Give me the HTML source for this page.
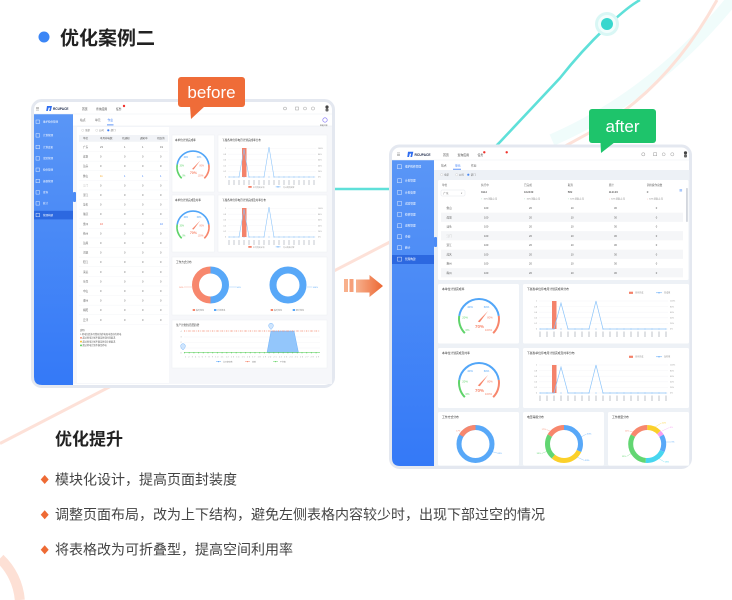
<!DOCTYPE html>
<html><head><meta charset="utf-8"><title>优化案例二</title>
<style>
html,body{margin:0;padding:0;background:#fff}
body{width:732px;height:600px;overflow:hidden}
svg{display:block;overflow:hidden}
text{font-family:"Liberation Sans","Noto Sans CJK SC",sans-serif}
</style></head><body>
<svg width="732" height="600" viewBox="0 0 732 600" xmlns="http://www.w3.org/2000/svg">
<defs>
<linearGradient id="sb" x1="0" y1="0" x2="0" y2="1"><stop offset="0" stop-color="#5a96f6"/><stop offset="1" stop-color="#3479f7"/></linearGradient>
<linearGradient id="arr" x1="0" x2="1" y1="0" y2="0"><stop offset="0" stop-color="#f7b18e"/><stop offset="1" stop-color="#ec6631"/></linearGradient>
<pattern id="xt5" x="228.6" y="0" width="5" height="1" patternUnits="userSpaceOnUse"><rect x="0" y="0" width=".8" height="1" fill="#b8bcc4"/></pattern>
<pattern id="xt7" x="539.55" y="0" width="7" height="1" patternUnits="userSpaceOnUse"><rect x="0" y="0" width=".9" height="1" fill="#b8bcc4"/></pattern>
<pattern id="rowl" x="0" y="142.2" width="10" height="9.6" patternUnits="userSpaceOnUse"><rect x="0" y="9.3" width="10" height=".35" fill="#eceff3"/></pattern>
</defs>

<!-- decorations -->
<path d="M732,0 Q655,95 552,140" stroke="#f0fcfb" stroke-width="12" fill="none"/>
<path d="M717,0 Q670,85 600,127 L388,243 L0,443.5" stroke="#fde1d8" stroke-width="3" fill="none"/>
<path d="M640,0 C625,8 590,40 560,78 L500,142 Q455,189 390,189 L330,189" stroke="#5fe0d9" stroke-width="2.6" fill="none"/>
<circle cx="607" cy="24" r="12" fill="#d9f7f5"/>
<circle cx="607" cy="24" r="9" fill="#f2fdfc"/>
<circle cx="607" cy="24" r="6" fill="#38d7ce"/>
<path d="M0,558.5 A64,64 0 0 1 19.8,600" stroke="#fde0d5" stroke-width="10" fill="none"/>

<!-- title -->
<circle cx="44" cy="37" r="5.5" fill="#3b86f6"/>
<text x="60" y="44.5" font-size="19" font-weight="bold" fill="#222">优化案例二</text>

<!-- ================= BEFORE ================= -->
<g>
<rect x="32.5" y="100.5" width="301" height="286" rx="9" fill="#fff" stroke="#e4e8f0" stroke-width="3"/>
<rect x="73" y="126" width="259" height="258" fill="#f6f7fa"/>
<path d="M34,114H73V385H42Q34,385 34,377Z" fill="url(#sb)"/>
<rect x="34" y="210.8" width="39" height="8.6" fill="#2c68e0"/>
<rect x="73" y="192" width="3" height="10" rx="1" fill="#4b8bf6"/>
<line x1="34" y1="114" x2="332" y2="114" stroke="#eceff3" stroke-width=".6"/>
<line x1="73" y1="126" x2="332" y2="126" stroke="#e8ebf0" stroke-width=".6"/>
<!-- header -->
<g fill="#888"><rect x="36" y="107" width="3" height=".5"/><rect x="36" y="108.4" width="3" height=".5"/><rect x="36" y="109.8" width="3" height=".5"/></g>
<path d="M47,106h5l-1.2,5h-1.6l0.8-3.3h-1.4l-0.8,3.3h-1.6z" fill="#2d6cf0"/>
<text x="53" y="110" font-size="3.2" font-weight="bold" fill="#1e2a4a">RCUPACE</text>
<g font-size="2.8" fill="#444"><text x="82" y="109.8">首页</text><text x="96" y="109.8">查询应用</text><text x="116" y="109.8">任务</text></g>
<circle cx="124" cy="106" r="1.2" fill="#f0302a"/>
<circle cx="285" cy="108.5" r="1.5" fill="none" stroke="#777" stroke-width=".4"/>
<rect x="295.5" y="107" width="3" height="3" fill="none" stroke="#888" stroke-width=".4"/>
<circle cx="305" cy="108.5" r="1.5" fill="none" stroke="#888" stroke-width=".4"/>
<circle cx="313" cy="108.5" r="1.6" fill="none" stroke="#888" stroke-width=".4"/>
<circle cx="327" cy="107" r="1.6" fill="#444"/><rect x="325.5" y="108.5" width="3" height="3" rx="1" fill="#666"/>
<!-- sidebar -->
<g fill="none" stroke="#fff" stroke-width=".4">
<rect x="36" y="120" width="3.5" height="3.5"/><rect x="36" y="133.6" width="3.5" height="3.5"/><rect x="36" y="145.3" width="3.5" height="3.5"/><rect x="36" y="156.6" width="3.5" height="3.5"/><rect x="36" y="168" width="3.5" height="3.5"/><rect x="36" y="179.3" width="3.5" height="3.5"/><rect x="36" y="190.6" width="3.5" height="3.5"/><rect x="36" y="201.6" width="3.5" height="3.5"/><rect x="36" y="213.3" width="3.5" height="3.5"/>
</g>
<g font-size="2.5" fill="#fff">
<text x="43" y="122.6">维护检修管理</text><text x="43" y="136.2">计划管理</text><text x="43" y="147.9">计划变更</text><text x="43" y="159.2">试验管理</text><text x="43" y="170.6">检修管理</text><text x="43" y="181.9">巡视管理</text><text x="43" y="193.2">查询</text><text x="43" y="204.2">统计</text><text x="43" y="215.9">管理构建</text>
</g>
<!-- tabs -->
<g font-size="2.8" fill="#666"><text x="80" y="121">站点</text><text x="95" y="121">单元</text></g>
<text x="107.5" y="121" font-size="2.8" fill="#3a7cf6">作业</text>
<rect x="107" y="124.5" width="6.5" height=".8" fill="#3a7cf6"/>
<circle cx="325" cy="120" r="2.2" fill="none" stroke="#7a6af5" stroke-width=".6"/>
<text x="320" y="126" font-size="1.9" fill="#666">智能开票</text>
<!-- left table -->
<rect x="77" y="127" width="92" height="256" fill="#fff"/>
<circle cx="82.7" cy="130.3" r="1.1" fill="none" stroke="#bbb" stroke-width=".3"/>
<circle cx="96.7" cy="130.3" r="1.1" fill="none" stroke="#bbb" stroke-width=".3"/>
<circle cx="108.3" cy="130.3" r="1.1" fill="#3a7cf6"/>
<g font-size="2.4" fill="#666"><text x="85" y="131.2">全部</text><text x="99" y="131.2">公司</text><text x="110.6" y="131.2">部门</text></g>
<rect x="79" y="135" width="89" height="6.8" fill="#f1f3f7"/>
<g font-size="2.5" fill="#555"><text x="83" y="139.2">单位</text><text x="100" y="139.2">本月停电数</text><text x="122" y="139.2">已通知</text><text x="140" y="139.2">通知中</text><text x="157" y="139.2">已取消</text></g>
<rect x="79" y="143" width="89" height="182" fill="url(#rowl)"/>
<g font-size="2.6" fill="#666">
<text y="148"><tspan x="83">广东</tspan><tspan x="100">23</tspan><tspan x="124">1</tspan><tspan x="142">1</tspan><tspan x="160">19</tspan></text>
<text y="157.6"><tspan x="83">深圳</tspan><tspan x="100">0</tspan><tspan x="124">0</tspan><tspan x="142">0</tspan><tspan x="160">0</tspan></text>
<text y="167.2"><tspan x="83">汕头</tspan><tspan x="100">0</tspan><tspan x="124">0</tspan><tspan x="142">0</tspan><tspan x="160">0</tspan></text>
<text y="176.8"><tspan x="83">佛山</tspan><tspan x="100" fill="#f5a623">11</tspan><tspan x="124" fill="#3a7cf6">1</tspan><tspan x="142" fill="#3a7cf6">1</tspan><tspan x="160" fill="#3a7cf6">1</tspan></text>
<text y="186.4"><tspan x="83" fill="#bbb">江门</tspan><tspan x="100">0</tspan><tspan x="124">0</tspan><tspan x="142">0</tspan><tspan x="160">0</tspan></text>
<text y="196"><tspan x="83">湛江</tspan><tspan x="100">0</tspan><tspan x="124">0</tspan><tspan x="142">0</tspan><tspan x="160">0</tspan></text>
<text y="205.6"><tspan x="83">茂名</tspan><tspan x="100">0</tspan><tspan x="124">0</tspan><tspan x="142">0</tspan><tspan x="160">0</tspan></text>
<text y="215.2"><tspan x="83">肇庆</tspan><tspan x="100">0</tspan><tspan x="124">0</tspan><tspan x="142">0</tspan><tspan x="160">0</tspan></text>
<text y="224.8"><tspan x="83">惠州</tspan><tspan x="100" fill="#f0503a">16</tspan><tspan x="124">0</tspan><tspan x="142">0</tspan><tspan x="160" fill="#3a7cf6">10</tspan></text>
<text y="234.4"><tspan x="83">梅州</tspan><tspan x="100">0</tspan><tspan x="124">0</tspan><tspan x="142">0</tspan><tspan x="160">0</tspan></text>
<text y="244"><tspan x="83">汕尾</tspan><tspan x="100">0</tspan><tspan x="124">0</tspan><tspan x="142">0</tspan><tspan x="160">0</tspan></text>
<text y="253.6"><tspan x="83">河源</tspan><tspan x="100">0</tspan><tspan x="124">0</tspan><tspan x="142">0</tspan><tspan x="160">0</tspan></text>
<text y="263.2"><tspan x="83">阳江</tspan><tspan x="100">0</tspan><tspan x="124">0</tspan><tspan x="142">0</tspan><tspan x="160">0</tspan></text>
<text y="272.8"><tspan x="83">清远</tspan><tspan x="100">0</tspan><tspan x="124">0</tspan><tspan x="142">0</tspan><tspan x="160">0</tspan></text>
<text y="282.4"><tspan x="83">东莞</tspan><tspan x="100">0</tspan><tspan x="124">0</tspan><tspan x="142">0</tspan><tspan x="160">0</tspan></text>
<text y="292"><tspan x="83">中山</tspan><tspan x="100">0</tspan><tspan x="124">0</tspan><tspan x="142">0</tspan><tspan x="160">0</tspan></text>
<text y="301.6"><tspan x="83">潮州</tspan><tspan x="100">0</tspan><tspan x="124">0</tspan><tspan x="142">0</tspan><tspan x="160">0</tspan></text>
<text y="311.2"><tspan x="83">揭阳</tspan><tspan x="100">0</tspan><tspan x="124">0</tspan><tspan x="142">0</tspan><tspan x="160">0</tspan></text>
<text y="320.8"><tspan x="83">云浮</tspan><tspan x="100">0</tspan><tspan x="124">0</tspan><tspan x="142">0</tspan><tspan x="160">0</tspan></text>
</g>
<g font-size="2.2" fill="#555">
<text x="80" y="331">说明:</text>
<text x="80" y="334.8">1.停电包括本月所有的停电和申请中的停电.</text>
<rect x="80" y="337" width="2" height="1.6" fill="#f7a08a"/><text x="82.5" y="338.6">超过停电计划不满足停电时间要求.</text>
<rect x="80" y="340.8" width="2" height="1.6" fill="#f5c242"/><text x="82.5" y="342.4">超过停电计划不满足停电计划要求.</text>
<rect x="80" y="344.6" width="2" height="1.6" fill="#6bd46b"/><text x="82.5" y="346.2">超过停电计划不满足停电.</text>
</g>

<!-- card A gauge -->
<rect x="172" y="135" width="42.5" height="57" fill="#fff" stroke="#edf0f4" stroke-width=".5"/>
<text x="175" y="141" font-size="2.6" fill="#333">本单位计划完成率</text>
<g transform="translate(193,167) scale(0.8)">
<path d="M-14.14,14.14 A20,20 0 0 1 -19.75,-3.13" stroke="#5fd36a" stroke-width="2" fill="none"/>
<path d="M-19.75,-3.13 A20,20 0 0 1 19.75,-3.13" stroke="#52a6f8" stroke-width="2" fill="none"/>
<path d="M19.75,-3.13 A20,20 0 0 1 14.14,14.14" stroke="#f7866c" stroke-width="2" fill="none"/>
<g font-size="2.8" text-anchor="middle">
<text x="-11.5" y="12" fill="#5fd36a">0%</text><text x="-14" y="-0.5" fill="#5fd36a">20%</text>
<text x="-9" y="-11" fill="#52a6f8">40%</text><text x="7.5" y="-11" fill="#52a6f8">60%</text>
<text x="11" y="-0.5" fill="#f7866c">80%</text><text x="9.5" y="12" fill="#f7866c">100%</text>
</g>
<polygon points="-1.2,2.5 0.8,3.2 9,-8" fill="#f7866c"/>
<text x="0.5" y="9" font-size="4.5" font-weight="bold" fill="#f7866c" text-anchor="middle">70%</text>
</g>
<!-- card C gauge -->
<rect x="172" y="195" width="42.5" height="57" fill="#fff" stroke="#edf0f4" stroke-width=".5"/>
<text x="175" y="201" font-size="2.6" fill="#333">本单位计划完成及时率</text>
<g transform="translate(193,227) scale(0.8)">
<path d="M-14.14,14.14 A20,20 0 0 1 -19.75,-3.13" stroke="#5fd36a" stroke-width="2" fill="none"/>
<path d="M-19.75,-3.13 A20,20 0 0 1 19.75,-3.13" stroke="#52a6f8" stroke-width="2" fill="none"/>
<path d="M19.75,-3.13 A20,20 0 0 1 14.14,14.14" stroke="#f7866c" stroke-width="2" fill="none"/>
<g font-size="2.8" text-anchor="middle">
<text x="-11.5" y="12" fill="#5fd36a">0%</text><text x="-14" y="-0.5" fill="#5fd36a">20%</text>
<text x="-9" y="-11" fill="#52a6f8">40%</text><text x="7.5" y="-11" fill="#52a6f8">60%</text>
<text x="11" y="-0.5" fill="#f7866c">80%</text><text x="9.5" y="12" fill="#f7866c">100%</text>
</g>
<polygon points="-1.2,2.5 0.8,3.2 9,-8" fill="#f7866c"/>
<text x="0.5" y="9" font-size="4.5" font-weight="bold" fill="#f7866c" text-anchor="middle">70%</text>
</g>
<!-- card B line chart -->
<rect x="218" y="135" width="109" height="57" fill="#fff" stroke="#edf0f4" stroke-width=".5"/>
<text x="222" y="141" font-size="2.6" fill="#333">下属各单位停电月计划完成率分布</text>
<g stroke="#f0f1f3" stroke-width=".35"><line x1="228" y1="148.5" x2="316" y2="148.5"/><line x1="228" y1="154.2" x2="316" y2="154.2"/><line x1="228" y1="159.9" x2="316" y2="159.9"/><line x1="228" y1="165.6" x2="316" y2="165.6"/><line x1="228" y1="171.3" x2="316" y2="171.3"/><line x1="228" y1="177" x2="316" y2="177"/></g>
<g font-size="1.9" fill="#999" text-anchor="end"><text x="226" y="149.2">1</text><text x="226" y="154.9">0.8</text><text x="226" y="160.6">0.6</text><text x="226" y="166.3">0.4</text><text x="226" y="172">0.2</text><text x="226" y="177.7">0</text></g>
<g font-size="1.9" fill="#999"><text x="318" y="149.2">100%</text><text x="318" y="154.9">80%</text><text x="318" y="160.6">60%</text><text x="318" y="166.3">40%</text><text x="318" y="172">20%</text><text x="318" y="177.7">0%</text></g>
<rect x="242" y="148" width="4.5" height="29" fill="#f4826a"/>
<polyline points="229,177 234,177 239,177 244,149 249,177 254,177 259,177 264,177 269,147 274,177 279,177 284,177 289,177 294,177 299,177 304,177 309,177 314,177" fill="none" stroke="#8cc4fa" stroke-width=".6"/>
<line x1="229" y1="177" x2="315" y2="177" stroke="#6fb3f8" stroke-width="1" stroke-dasharray="0 5" stroke-linecap="round"/>
<rect x="228" y="180" width="88" height="5" fill="url(#xt5)"/>
<rect x="248.3" y="186" width="3.4" height="1.8" fill="#f4826a"/><text x="253" y="187.8" font-size="1.9" fill="#888">本月完成计划</text>
<line x1="275.7" y1="186.9" x2="280.5" y2="186.9" stroke="#5aa6f7" stroke-width=".5"/><circle cx="278" cy="186.9" r=".6" fill="#5aa6f7"/><text x="283" y="187.8" font-size="1.9" fill="#888">月计划完成率</text>
<!-- card D line chart -->
<rect x="218" y="195" width="109" height="57" fill="#fff" stroke="#edf0f4" stroke-width=".5"/>
<text x="222" y="201" font-size="2.6" fill="#333">下属各单位停电月计划完成及时率分布</text>
<g stroke="#f0f1f3" stroke-width=".35"><line x1="228" y1="208.5" x2="316" y2="208.5"/><line x1="228" y1="214.2" x2="316" y2="214.2"/><line x1="228" y1="219.9" x2="316" y2="219.9"/><line x1="228" y1="225.6" x2="316" y2="225.6"/><line x1="228" y1="231.3" x2="316" y2="231.3"/><line x1="228" y1="237" x2="316" y2="237"/></g>
<g font-size="1.9" fill="#999" text-anchor="end"><text x="226" y="209.2">1</text><text x="226" y="214.9">0.8</text><text x="226" y="220.6">0.6</text><text x="226" y="226.3">0.4</text><text x="226" y="232">0.2</text><text x="226" y="237.7">0</text></g>
<g font-size="1.9" fill="#999"><text x="318" y="209.2">100%</text><text x="318" y="214.9">80%</text><text x="318" y="220.6">60%</text><text x="318" y="226.3">40%</text><text x="318" y="232">20%</text><text x="318" y="237.7">0%</text></g>
<rect x="242" y="208" width="4.5" height="29" fill="#f4826a"/>
<polyline points="229,237 234,237 239,237 244,209 249,237 254,237 259,237 264,237 269,207 274,237 279,237 284,237 289,237 294,237 299,237 304,237 309,237 314,237" fill="none" stroke="#8cc4fa" stroke-width=".6"/>
<line x1="229" y1="237" x2="315" y2="237" stroke="#6fb3f8" stroke-width="1" stroke-dasharray="0 5" stroke-linecap="round"/>
<rect x="228" y="240" width="88" height="5" fill="url(#xt5)"/>
<rect x="248.3" y="246" width="3.4" height="1.8" fill="#f4826a"/><text x="253" y="247.8" font-size="1.9" fill="#888">本月完成计划</text>
<line x1="275.7" y1="246.9" x2="280.5" y2="246.9" stroke="#5aa6f7" stroke-width=".5"/><circle cx="278" cy="246.9" r=".6" fill="#5aa6f7"/><text x="283" y="247.8" font-size="1.9" fill="#888">月计划及时率</text>
<!-- card E donuts -->
<rect x="172" y="257" width="155" height="58" fill="#fff" stroke="#edf0f4" stroke-width=".5"/>
<text x="176" y="263" font-size="2.6" fill="#333">工作方式分布</text>
<path d="M210.5,270 A15,15 0 0 1 210.5,300" stroke="#58a8f8" stroke-width="7" fill="none"/>
<path d="M210.5,300 A15,15 0 0 1 210.5,270" stroke="#f7876d" stroke-width="7" fill="none"/>
<line x1="184" y1="287" x2="192" y2="287" stroke="#f7876d" stroke-width=".3"/><text x="183.5" y="287.8" font-size="2.2" fill="#f7876d" text-anchor="end">50%</text>
<line x1="229" y1="287" x2="236" y2="287" stroke="#58a8f8" stroke-width=".3"/><text x="236.5" y="287.8" font-size="2.2" fill="#58a8f8">50%</text>
<circle cx="288" cy="285" r="15" stroke="#58a8f8" stroke-width="7" fill="none"/>
<line x1="307" y1="287" x2="312" y2="287" stroke="#58a8f8" stroke-width=".3"/><text x="312.5" y="287.8" font-size="2.2" fill="#58a8f8">100%</text>
<g font-size="2" fill="#888">
<rect x="192.7" y="309" width="2.4" height="2" fill="#f7876d"/><text x="196" y="310.8">临时停电</text>
<rect x="214" y="309" width="2.4" height="2" fill="#58a8f8"/><text x="217.3" y="310.8">计划停电</text>
<rect x="270.7" y="309" width="2.4" height="2" fill="#f7876d"/><text x="274" y="310.8">临时停电</text>
<rect x="292.7" y="309" width="2.4" height="2" fill="#58a8f8"/><text x="296" y="310.8">累计停电</text>
</g>
<!-- card F trend -->
<rect x="172" y="320" width="155" height="48" fill="#fff" stroke="#edf0f4" stroke-width=".5"/>
<text x="176" y="325.8" font-size="2.6" fill="#333">生产计划性月历趋势</text>
<g font-size="1.9" fill="#999" text-anchor="end"><text x="181.5" y="331.8">4</text><text x="181.5" y="337.3">3</text><text x="181.5" y="342.8">2</text><text x="181.5" y="348.3">1</text><text x="181.5" y="353.6">0</text></g>
<g stroke="#f0f1f3" stroke-width=".35"><line x1="184" y1="337" x2="320" y2="337"/><line x1="184" y1="342.5" x2="320" y2="342.5"/><line x1="184" y1="348" x2="320" y2="348"/></g>
<polygon points="267,352.7 271,331 294,331 298.5,352.7" fill="#93c6fb" stroke="#5aa6f7" stroke-width=".4"/>
<line x1="184" y1="331" x2="320" y2="331" stroke="#f58a70" stroke-width=".5" stroke-dasharray="1.2 .8"/>
<line x1="184.5" y1="331" x2="320" y2="331" stroke="#f58a70" stroke-width="1.1" stroke-dasharray="0 4.7" stroke-linecap="round"/>
<line x1="184" y1="352.7" x2="320" y2="352.7" stroke="#6ad46a" stroke-width=".6"/>
<line x1="184.5" y1="352.7" x2="320" y2="352.7" stroke="#5ccc5c" stroke-width="1.2" stroke-dasharray="0 4.7" stroke-linecap="round"/>
<path d="M271,329.5 c-2,-2 -2.3,-3 -2.3,-4 a2.3,2.3 0 1 1 4.6,0 c0,1 -0.3,2 -2.3,4z" fill="#cfe5fd" stroke="#5aa6f7" stroke-width=".4"/>
<path d="M183,350 c-2,-2 -2.3,-3 -2.3,-4 a2.3,2.3 0 1 1 4.6,0 c0,1 -0.3,2 -2.3,4z" fill="#cfe5fd" stroke="#5aa6f7" stroke-width=".4"/>
<text x="185" y="357.5" font-size="1.9" fill="#999" textLength="134" lengthAdjust="spacing">1 2 3 4 5 6 7 8 9 10 11 12 13 14 15 16 17 18 19 20 21 22 23 24 25 26 27 28 29</text>
<g font-size="1.9" fill="#888">
<line x1="216" y1="361.6" x2="221" y2="361.6" stroke="#5aa6f7" stroke-width=".5"/><circle cx="218.5" cy="361.6" r=".6" fill="#5aa6f7"/><text x="223" y="362.4">当日停电数</text>
<line x1="245" y1="361.6" x2="250" y2="361.6" stroke="#f58a70" stroke-width=".5"/><circle cx="247.5" cy="361.6" r=".6" fill="#f58a70"/><text x="252" y="362.4">峰值</text>
<line x1="273" y1="361.6" x2="278" y2="361.6" stroke="#6ad46a" stroke-width=".5"/><circle cx="275.5" cy="361.6" r=".6" fill="#6ad46a"/><text x="280" y="362.4">平均值</text>
</g>
</g>

<!-- before bubble -->
<rect x="178" y="77" width="67" height="30" rx="3" fill="#ef6c38"/>
<path d="M190,106 H205 L191,119 Z" fill="#ef6c38"/>
<text x="211.5" y="98" font-size="17" fill="#fff" text-anchor="middle">before</text>

<!-- arrow -->
<rect x="344" y="279" width="4" height="13" fill="#f8b08c"/>
<rect x="349.5" y="279" width="4" height="13" fill="#f6a07a"/>
<path d="M356,279.5 H369.5 V275 L383,286 L369.5,297 V292.5 H356 Z" fill="url(#arr)"/>

<!-- ================= AFTER ================= -->
<g>
<rect x="390.5" y="146" width="300" height="321.5" rx="9" fill="#fff" stroke="#e4e8f0" stroke-width="3"/>
<rect x="434" y="170" width="255.5" height="296" fill="#edf1f6"/>
<path d="M392,160H434V466H400Q392,466 392,458Z" fill="url(#sb)"/>
<rect x="392" y="255" width="42" height="9" fill="#2c68e0"/>
<rect x="434" y="237" width="3" height="10" rx="1" fill="#4b8bf6"/>
<line x1="392" y1="160" x2="689.5" y2="160" stroke="#eceff3" stroke-width=".6"/>
<!-- header -->
<g fill="#888"><rect x="397" y="152.7" width="3" height=".5"/><rect x="397" y="154.1" width="3" height=".5"/><rect x="397" y="155.5" width="3" height=".5"/></g>
<path d="M408,151.8h5.3l-1.2,5.2h-1.7l0.8-3.4h-1.4l-0.8,3.4h-1.7z" fill="#2d6cf0"/>
<text x="414.5" y="156" font-size="3.3" font-weight="bold" fill="#1e2a4a">RCUPACE</text>
<g font-size="2.9" fill="#444"><text x="443" y="155.8">首页</text><text x="457.5" y="155.8">查询应用</text><text x="477.5" y="155.8">任务</text></g>
<circle cx="484.3" cy="152.3" r="1.2" fill="#f0302a"/>
<circle cx="506.7" cy="152.3" r="1.2" fill="#f0302a"/>
<circle cx="643.3" cy="154.3" r="1.6" fill="none" stroke="#777" stroke-width=".4"/>
<rect x="653.5" y="152.8" width="3.2" height="3" fill="none" stroke="#888" stroke-width=".4"/>
<circle cx="663.7" cy="154.3" r="1.5" fill="none" stroke="#888" stroke-width=".4"/>
<circle cx="672.3" cy="154.3" r="1.6" fill="none" stroke="#888" stroke-width=".4"/>
<circle cx="685.5" cy="152.8" r="1.6" fill="#444"/><rect x="684" y="154.3" width="3" height="3.2" rx="1" fill="#666"/>
<!-- sidebar -->
<g fill="none" stroke="#fff" stroke-width=".4">
<rect x="397.5" y="164.8" width="4" height="4"/><rect x="397.5" y="178.8" width="4" height="4"/><rect x="397.5" y="190.4" width="4" height="4"/><rect x="397.5" y="201.4" width="4" height="4"/><rect x="397.5" y="212.4" width="4" height="4"/><rect x="397.5" y="223.8" width="4" height="4"/><rect x="397.5" y="234.8" width="4" height="4"/><rect x="397.5" y="245.8" width="4" height="4"/><rect x="397.5" y="257.1" width="4" height="4"/>
</g>
<g font-size="2.7" fill="#fff">
<text x="405" y="167.7">维护检修管理</text><text x="405" y="181.7">计划管理</text><text x="405" y="193.3">计划变更</text><text x="405" y="204.3">试验管理</text><text x="405" y="215.3">检修管理</text><text x="405" y="226.7">巡视管理</text><text x="405" y="237.7">查询</text><text x="405" y="248.7">统计</text><text x="405" y="260">管理构建</text>
</g>
<!-- tabs -->
<g font-size="2.8" fill="#666"><text x="441" y="166.5">站点</text><text x="471" y="166.5">作业</text></g>
<text x="455" y="166.5" font-size="2.8" fill="#3a7cf6">单元</text>
<rect x="453" y="168.8" width="8" height=".8" fill="#3a7cf6"/>
<circle cx="441.7" cy="174.7" r="1.1" fill="#fff" stroke="#bbb" stroke-width=".3"/>
<circle cx="456.7" cy="174.7" r="1.1" fill="#fff" stroke="#bbb" stroke-width=".3"/>
<circle cx="468.3" cy="174.7" r="1.1" fill="#4a8af6"/>
<g font-size="2.4" fill="#666"><text x="444" y="175.6">全部</text><text x="459" y="175.6">公司</text><text x="470.8" y="175.6">部门</text></g>
<!-- table card -->
<rect x="438" y="180" width="250.5" height="100" rx="1.5" fill="#fff"/>
<g font-size="2.6" fill="#666"><text x="442" y="186">单位</text><text x="481" y="186">执行中</text><text x="524" y="186">已完成</text><text x="567.7" y="186">取消</text><text x="608.7" y="186">累计</text><text x="646.7" y="186">调用操作总数</text></g>
<rect x="441" y="190" width="24" height="6" rx="1" fill="#fff" stroke="#dde1e8" stroke-width=".4"/>
<text x="443.5" y="194.2" font-size="2.5" fill="#444">广东</text><text x="461" y="194.2" font-size="2.3" fill="#888">▾</text>
<g font-size="2.8" fill="#333"><text x="481" y="193.2">9112</text><text x="524" y="193.2">102439</text><text x="567.7" y="193.2">582</text><text x="608.7" y="193.2">112133</text><text x="646.7" y="193.2">0</text></g>
<g font-size="2.2">
<text x="481" y="199.6" fill="#3cc06a">↑</text><text x="483.5" y="199.6" fill="#777">10% 同比上月</text>
<text x="524" y="199.6" fill="#3cc06a">↑</text><text x="526.5" y="199.6" fill="#777">10% 同比上月</text>
<text x="567.7" y="199.6" fill="#3cc06a">↑</text><text x="570.2" y="199.6" fill="#777">10% 同比上月</text>
<text x="608.7" y="199.6" fill="#f0503a">↓</text><text x="611.2" y="199.6" fill="#777">10% 同比上月</text>
<text x="646.7" y="199.6" fill="#f0503a">↓</text><text x="649.2" y="199.6" fill="#777">10% 同比上月</text>
</g>
<rect x="679.5" y="189" width="2.6" height="2.6" fill="#a9c8fb"/>
<rect x="686.2" y="188" width="1.5" height="34" rx=".7" fill="#c8cdd6"/>
<g fill="#f5f6f8"><rect x="441" y="212.65" width="242" height="9.2"/><rect x="441" y="231.15" width="242" height="9.2"/><rect x="441" y="249.65" width="242" height="9.2"/><rect x="441" y="268.15" width="242" height="9.2"/></g>
<g font-size="2.6" fill="#555">
<text y="209"><tspan x="446.5">佛山</tspan><tspan x="484">100</tspan><tspan x="529">20</tspan><tspan x="570.7">10</tspan><tspan x="614">30</tspan><tspan x="655.7">0</tspan></text>
<text y="218.25"><tspan x="446.5">深圳</tspan><tspan x="484">100</tspan><tspan x="529">20</tspan><tspan x="570.7">10</tspan><tspan x="614">30</tspan><tspan x="655.7">0</tspan></text>
<text y="227.5"><tspan x="446.5">汕头</tspan><tspan x="484">100</tspan><tspan x="529">20</tspan><tspan x="570.7">10</tspan><tspan x="614">30</tspan><tspan x="655.7">0</tspan></text>
<text y="236.75"><tspan x="446.5" fill="#bbb">江门</tspan><tspan x="484">100</tspan><tspan x="529">20</tspan><tspan x="570.7">10</tspan><tspan x="614">30</tspan><tspan x="655.7">0</tspan></text>
<text y="246"><tspan x="446.5">湛江</tspan><tspan x="484">100</tspan><tspan x="529">20</tspan><tspan x="570.7">10</tspan><tspan x="614">30</tspan><tspan x="655.7">0</tspan></text>
<text y="255.25"><tspan x="446.5">茂名</tspan><tspan x="484">100</tspan><tspan x="529">20</tspan><tspan x="570.7">10</tspan><tspan x="614">30</tspan><tspan x="655.7">0</tspan></text>
<text y="264.5"><tspan x="446.5">惠州</tspan><tspan x="484">100</tspan><tspan x="529">20</tspan><tspan x="570.7">10</tspan><tspan x="614">30</tspan><tspan x="655.7">0</tspan></text>
<text y="273.75"><tspan x="446.5">梅州</tspan><tspan x="484">100</tspan><tspan x="529">20</tspan><tspan x="570.7">10</tspan><tspan x="614">30</tspan><tspan x="655.7">0</tspan></text>
</g>

<!-- gauge card 1 -->
<rect x="438" y="284" width="81" height="59.5" rx="1.5" fill="#fff"/>
<text x="442" y="290" font-size="2.8" fill="#333">本单位计划完成率</text>
<g transform="translate(479,319)">
<path d="M-14.14,14.14 A20,20 0 0 1 -19.75,-3.13" stroke="#5fd36a" stroke-width="2" fill="none"/>
<path d="M-19.75,-3.13 A20,20 0 0 1 19.75,-3.13" stroke="#52a6f8" stroke-width="2" fill="none"/>
<path d="M19.75,-3.13 A20,20 0 0 1 14.14,14.14" stroke="#f7866c" stroke-width="2" fill="none"/>
<g font-size="2.8" text-anchor="middle">
<text x="-11.5" y="12" fill="#5fd36a">0%</text><text x="-14" y="-0.5" fill="#5fd36a">20%</text>
<text x="-9" y="-11" fill="#52a6f8">40%</text><text x="7.5" y="-11" fill="#52a6f8">60%</text>
<text x="11" y="-0.5" fill="#f7866c">80%</text><text x="9.5" y="12" fill="#f7866c">100%</text>
</g>
<polygon points="-1.2,2.5 0.8,3.2 9,-8" fill="#f7866c"/>
<text x="0.5" y="9" font-size="4.5" font-weight="bold" fill="#f7866c" text-anchor="middle">70%</text>
</g>
<!-- gauge card 2 -->
<rect x="438" y="348" width="81" height="60" rx="1.5" fill="#fff"/>
<text x="442" y="354" font-size="2.8" fill="#333">本单位计划完成及时率</text>
<g transform="translate(479,383)">
<path d="M-14.14,14.14 A20,20 0 0 1 -19.75,-3.13" stroke="#5fd36a" stroke-width="2" fill="none"/>
<path d="M-19.75,-3.13 A20,20 0 0 1 19.75,-3.13" stroke="#52a6f8" stroke-width="2" fill="none"/>
<path d="M19.75,-3.13 A20,20 0 0 1 14.14,14.14" stroke="#f7866c" stroke-width="2" fill="none"/>
<g font-size="2.8" text-anchor="middle">
<text x="-11.5" y="12" fill="#5fd36a">0%</text><text x="-14" y="-0.5" fill="#5fd36a">20%</text>
<text x="-9" y="-11" fill="#52a6f8">40%</text><text x="7.5" y="-11" fill="#52a6f8">60%</text>
<text x="11" y="-0.5" fill="#f7866c">80%</text><text x="9.5" y="12" fill="#f7866c">100%</text>
</g>
<polygon points="-1.2,2.5 0.8,3.2 9,-8" fill="#f7866c"/>
<text x="0.5" y="9" font-size="4.5" font-weight="bold" fill="#f7866c" text-anchor="middle">70%</text>
</g>

<!-- line card 1 -->
<rect x="523" y="284" width="166" height="59.5" rx="1.5" fill="#fff"/>
<text x="527" y="290" font-size="2.8" fill="#333">下属各单位停电月计划完成率分布</text>
<rect x="629" y="291.7" width="4" height="2.2" fill="#f4826a"/><text x="635" y="293.6" font-size="2.1" fill="#888">本月完成</text>
<line x1="656" y1="292.8" x2="662" y2="292.8" stroke="#5aa6f7" stroke-width=".5"/><circle cx="659" cy="292.8" r=".7" fill="#5aa6f7"/><text x="664" y="293.6" font-size="2.1" fill="#888">完成率</text>
<g stroke="#f0f1f3" stroke-width=".35"><line x1="539" y1="301" x2="668" y2="301"/><line x1="539" y1="306.6" x2="668" y2="306.6"/><line x1="539" y1="312.2" x2="668" y2="312.2"/><line x1="539" y1="317.8" x2="668" y2="317.8"/><line x1="539" y1="323.4" x2="668" y2="323.4"/><line x1="539" y1="329" x2="668" y2="329"/></g>
<g font-size="2" fill="#999" text-anchor="end"><text x="537" y="301.7">1</text><text x="537" y="307.3">0.8</text><text x="537" y="312.9">0.6</text><text x="537" y="318.5">0.4</text><text x="537" y="324.1">0.2</text><text x="537" y="329.7">0</text></g>
<g font-size="2" fill="#999"><text x="670" y="301.7">100%</text><text x="670" y="307.3">80%</text><text x="670" y="312.9">60%</text><text x="670" y="318.5">40%</text><text x="670" y="324.1">20%</text><text x="670" y="329.7">0%</text></g>
<rect x="552" y="301" width="4.5" height="28" fill="#f4826a"/>
<polyline points="540,329 547,329 554,329 561,303 568,329 575,329 582,329 589,329 596,301 603,329 610,329 617,329 624,329 631,329 638,329 645,329 652,329 659,329 666,329" fill="none" stroke="#8cc4fa" stroke-width=".7"/>
<line x1="540" y1="329" x2="667" y2="329" stroke="#6fb3f8" stroke-width="1.1" stroke-dasharray="0 7" stroke-linecap="round"/>
<rect x="539" y="331.5" width="129" height="5.5" fill="url(#xt7)"/>
<!-- line card 2 -->
<rect x="523" y="348" width="166" height="60" rx="1.5" fill="#fff"/>
<text x="527" y="354" font-size="2.8" fill="#333">下属各单位停电月计划完成及时率分布</text>
<rect x="629" y="355.7" width="4" height="2.2" fill="#f4826a"/><text x="635" y="357.6" font-size="2.1" fill="#888">本月完成</text>
<line x1="656" y1="356.8" x2="662" y2="356.8" stroke="#5aa6f7" stroke-width=".5"/><circle cx="659" cy="356.8" r=".7" fill="#5aa6f7"/><text x="664" y="357.6" font-size="2.1" fill="#888">及时率</text>
<g stroke="#f0f1f3" stroke-width=".35"><line x1="539" y1="365" x2="668" y2="365"/><line x1="539" y1="370.6" x2="668" y2="370.6"/><line x1="539" y1="376.2" x2="668" y2="376.2"/><line x1="539" y1="381.8" x2="668" y2="381.8"/><line x1="539" y1="387.4" x2="668" y2="387.4"/><line x1="539" y1="393" x2="668" y2="393"/></g>
<g font-size="2" fill="#999" text-anchor="end"><text x="537" y="365.7">1</text><text x="537" y="371.3">0.8</text><text x="537" y="376.9">0.6</text><text x="537" y="382.5">0.4</text><text x="537" y="388.1">0.2</text><text x="537" y="393.7">0</text></g>
<g font-size="2" fill="#999"><text x="670" y="365.7">100%</text><text x="670" y="371.3">80%</text><text x="670" y="376.9">60%</text><text x="670" y="382.5">40%</text><text x="670" y="388.1">20%</text><text x="670" y="393.7">0%</text></g>
<rect x="552" y="365" width="4.5" height="28" fill="#f4826a"/>
<polyline points="540,393 547,393 554,393 561,367 568,393 575,393 582,393 589,393 596,365 603,393 610,393 617,393 624,393 631,393 638,393 645,393 652,393 659,393 666,393" fill="none" stroke="#8cc4fa" stroke-width=".7"/>
<line x1="540" y1="393" x2="667" y2="393" stroke="#6fb3f8" stroke-width="1.1" stroke-dasharray="0 7" stroke-linecap="round"/>
<rect x="539" y="395.5" width="129" height="5.5" fill="url(#xt7)"/>

<!-- bottom donut cards -->
<rect x="438" y="412" width="81" height="53.5" rx="1.5" fill="#fff"/>
<rect x="523" y="412" width="81" height="53.5" rx="1.5" fill="#fff"/>
<rect x="608" y="412" width="81" height="53.5" rx="1.5" fill="#fff"/>
<g font-size="2.8" fill="#333"><text x="442" y="418">工作方式分布</text><text x="527" y="418">电压等级分布</text><text x="612" y="418">工作类型分布</text></g>
<!-- donut 1 -->
<g transform="rotate(-90 475.5 444)" fill="none" stroke-width="5">
<circle cx="475.5" cy="444" r="16.5" stroke="#58a8f8"/>
<circle cx="475.5" cy="444" r="16.5" stroke="#f7876d" stroke-dasharray="17.28 103.67" stroke-dashoffset="-86.39"/>
</g>
<line x1="461" y1="431" x2="465" y2="433" stroke="#f7876d" stroke-width=".3"/><text x="460.5" y="431.5" font-size="2.2" fill="#f7876d" text-anchor="end">17%</text>
<line x1="490" y1="451" x2="497" y2="453" stroke="#58a8f8" stroke-width=".3"/><text x="497.5" y="454" font-size="2.2" fill="#58a8f8">83%</text>
<!-- donut 2 -->
<g transform="rotate(-90 564 444)" fill="none" stroke-width="5">
<circle cx="564" cy="444" r="16.5" stroke="#f7876d" stroke-dasharray="17.28 103.67" stroke-dashoffset="-86.39"/>
<circle cx="564" cy="444" r="16.5" stroke="#58a8f8" stroke-dasharray="33.12 103.67" stroke-dashoffset="0"/>
<circle cx="564" cy="444" r="16.5" stroke="#fbd02a" stroke-dasharray="30.24 103.67" stroke-dashoffset="-33.12"/>
<circle cx="564" cy="444" r="16.5" stroke="#62d672" stroke-dasharray="23.04 103.67" stroke-dashoffset="-63.36"/>
</g>
<g font-size="2.2">
<text x="546" y="430" fill="#f7876d" text-anchor="end">17%</text><line x1="546.5" y1="429.5" x2="552" y2="432" stroke="#f7876d" stroke-width=".3"/>
<text x="587" y="434.5" fill="#58a8f8">33%</text><line x1="581" y1="437" x2="586.5" y2="434" stroke="#58a8f8" stroke-width=".3"/>
<text x="585" y="461" fill="#58a8f8">33%</text><line x1="577" y1="457" x2="584.5" y2="460.5" stroke="#58a8f8" stroke-width=".3"/>
<text x="541" y="454" fill="#62d672" text-anchor="end">33%</text><line x1="541.5" y1="453.5" x2="548" y2="451" stroke="#62d672" stroke-width=".3"/>
</g>
<!-- donut 3 -->
<g transform="rotate(-90 647.2 444)" fill="none" stroke-width="5">
<circle cx="647.2" cy="444" r="16.5" stroke="#fbd02a" stroke-dasharray="12.96 103.67" stroke-dashoffset="0"/>
<circle cx="647.2" cy="444" r="16.5" stroke="#f59df0" stroke-dasharray="4.32 103.67" stroke-dashoffset="-12.96"/>
<circle cx="647.2" cy="444" r="16.5" stroke="#58a8f8" stroke-dasharray="15.84 103.67" stroke-dashoffset="-17.28"/>
<circle cx="647.2" cy="444" r="16.5" stroke="#47d6ef" stroke-dasharray="20.16 103.67" stroke-dashoffset="-33.12"/>
<circle cx="647.2" cy="444" r="16.5" stroke="#62d672" stroke-dasharray="33.12 103.67" stroke-dashoffset="-53.28"/>
<circle cx="647.2" cy="444" r="16.5" stroke="#f7876d" stroke-dasharray="17.28 103.67" stroke-dashoffset="-86.39"/>
</g>
<g font-size="2.1">
<text x="662" y="423.5" fill="#fbd02a">12%</text><line x1="655" y1="427" x2="661.5" y2="423" stroke="#fbd02a" stroke-width=".3"/>
<text x="670" y="428" fill="#f59df0">6%</text><line x1="662" y1="431" x2="669.5" y2="427.5" stroke="#f59df0" stroke-width=".3"/>
<text x="671.5" y="442.5" fill="#58a8f8">6%</text><line x1="665" y1="442" x2="671" y2="442" stroke="#58a8f8" stroke-width=".3"/>
<text x="665" y="462.5" fill="#47d6ef">18%</text><line x1="658" y1="458" x2="664.5" y2="462" stroke="#47d6ef" stroke-width=".3"/>
<text x="626" y="457" fill="#62d672" text-anchor="end">53%</text><line x1="626.5" y1="456.5" x2="632" y2="453" stroke="#62d672" stroke-width=".3"/>
<text x="629" y="431.5" fill="#f7876d" text-anchor="end">12%</text><line x1="629.5" y1="431" x2="636" y2="433" stroke="#f7876d" stroke-width=".3"/>
</g>
</g>

<!-- after bubble -->
<rect x="589" y="109" width="67" height="34" rx="3" fill="#1ec46b"/>
<path d="M600.5,142 H615 L601,153 Z" fill="#1ec46b"/>
<text x="622.5" y="132" font-size="17" fill="#fff" text-anchor="middle">after</text>

<!-- bottom text -->
<text x="55" y="445" font-size="17" font-weight="bold" fill="#222">优化提升</text>
<path d="M44.7,475 L48.7,479.5 L44.7,484 L40.7,479.5 Z" fill="#ee6a34"/>
<path d="M44.7,510.2 L48.7,514.7 L44.7,519.2 L40.7,514.7 Z" fill="#ee6a34"/>
<path d="M44.7,545.2 L48.7,549.7 L44.7,554.2 L40.7,549.7 Z" fill="#ee6a34"/>
<g font-size="14" fill="#444">
<text x="55" y="484.5">模块化设计，提高页面封装度</text>
<text x="55" y="519.5">调整页面布局，改为上下结构，避免左侧表格内容较少时，出现下部过空的情况</text>
<text x="55" y="554.5">将表格改为可折叠型，提高空间利用率</text>
</g>
</svg>
</body></html>
